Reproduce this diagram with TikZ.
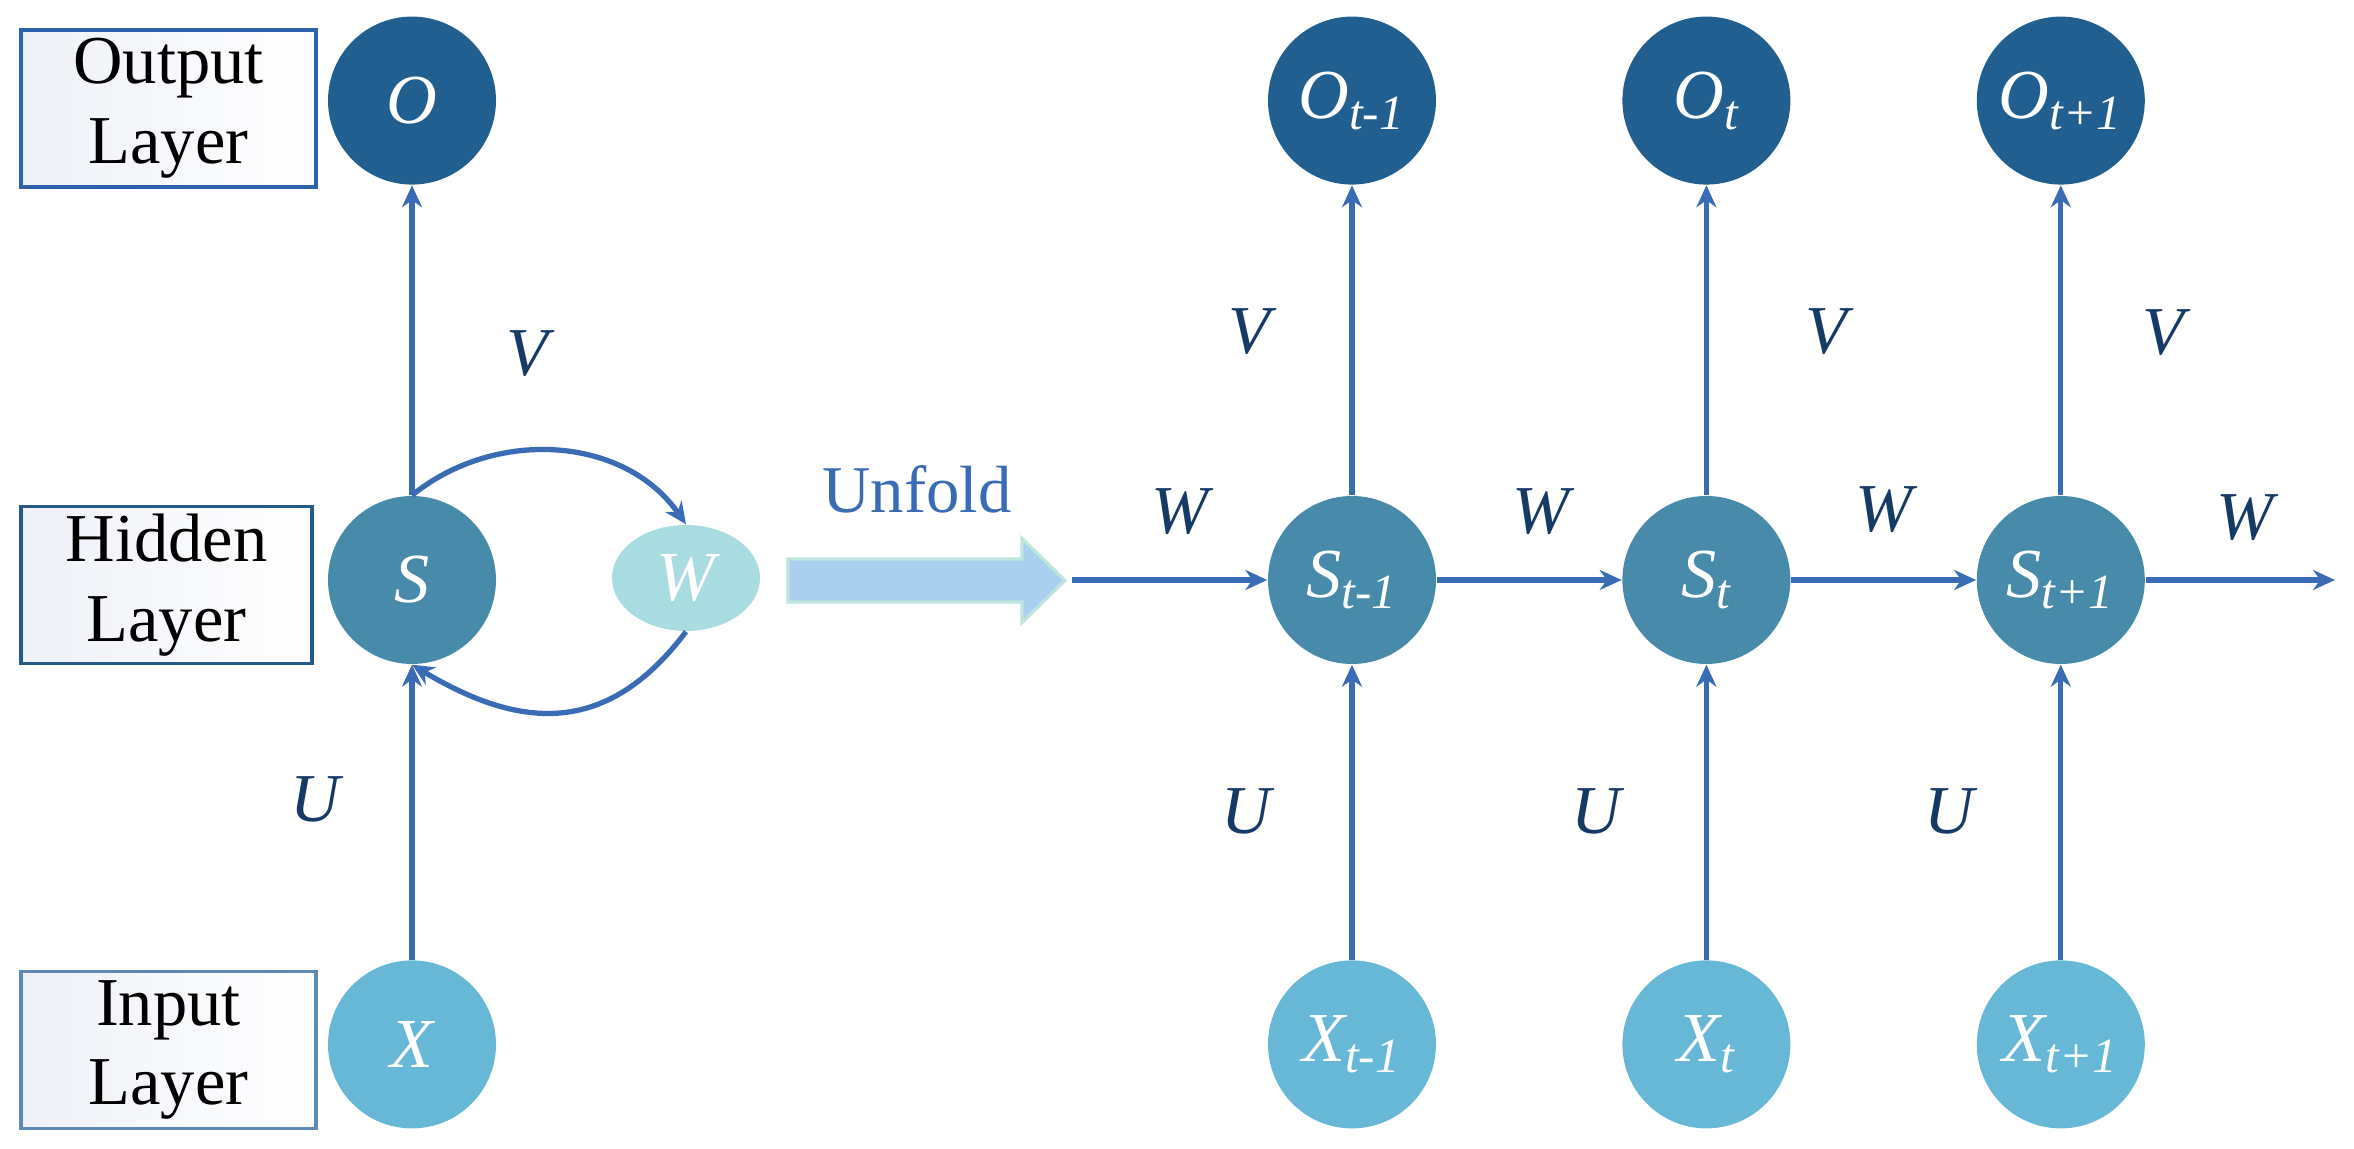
\documentclass[tikz,border=0pt]{standalone}
\usepackage{fontspec}
\setmainfont{Liberation Serif}
\usepackage{xcolor}
\usepackage{tikz}
\usetikzlibrary{arrows.meta, positioning, shapes.geometric}

\definecolor{outfill}{HTML}{225F91}
\definecolor{hidfill}{HTML}{478AA9}
\definecolor{infill}{HTML}{67B8D6}
\definecolor{wfill}{HTML}{A9DCE0}
\definecolor{linecol}{HTML}{3A6BB5}
\definecolor{lblcol}{HTML}{163A66}
\definecolor{unfoldfill}{HTML}{A9D1EF}
\definecolor{unfolddraw}{HTML}{BDE4DD}
\definecolor{outbox}{HTML}{2E62AC}
\definecolor{hidbox}{HTML}{235A86}
\definecolor{inbox}{HTML}{5E8AB5}
\definecolor{boxshade}{HTML}{EEF1F7}

\begin{document}
\begin{tikzpicture}[
          node distance=1.85cm,
          unit/.style={circle, minimum size=1.68cm, inner sep=0pt, text=white,
                       font=\fontsize{20}{24}\selectfont\itshape},
          outunit/.style={unit, fill=outfill},
          hidunit/.style={unit, fill=hidfill},
          inunit/.style={unit, fill=infill},
          layerbox/.style={draw, line width=0.9pt, minimum width=2.95cm,
                           minimum height=1.57cm, inner sep=0pt, align=center,
                           left color=boxshade, right color=white,
                           font=\fontsize{19.5}{22.7}\selectfont},
          wlabel/.style={text=lblcol, font=\fontsize{19.5}{23}\selectfont\itshape},
          arr/.style={-{Stealth[length=2.2mm, width=2mm]}, line width=1.5pt, draw=linecol}
        ]
          \useasboundingbox (0,0) rectangle (23.54,11.49);

          \node[layerbox, draw=outbox] (outlayer) at (1.685,10.405) {Output\\Layer};
          \node[layerbox, draw=hidbox, minimum width=2.91cm] (hidlayer) at (1.665,5.64) {Hidden\\Layer};
          \node[layerbox, draw=inbox] (inlayer) at (1.685,0.99) {Input\\Layer};

          \node[hidunit] (s) at (4.12,5.69) {S};
          \node[outunit, above=3.10cm of s] (o) {O};
          \node[inunit, below=2.95cm of s] (x) {X};
          \node[ellipse, fill=wfill, minimum width=1.48cm, minimum height=1.06cm,
                inner sep=0pt, text=white, font=\fontsize{20}{24}\selectfont\itshape] (w) at (6.86,5.71) {W};
          \draw[arr] (x) -- (s);
          \draw[arr] (s) -- (o);
          \draw[arr] (s.north) to[out=39, in=125] (w.north);
          \draw[arr] (w.south) to[out=-127, in=-31, looseness=1.2] (s.south);
          \node[wlabel] (vleft) at (5.27,7.95) {V};
          \node[wlabel] (uleft) at (3.15,3.50) {U};

          \draw[line width=0.9pt, draw=unfolddraw, fill=unfoldfill]
            (7.88,5.47) -- (10.22,5.47) -- (10.22,5.265) -- (10.65,5.685)
            -- (10.22,6.105) -- (10.22,5.90) -- (7.88,5.90) -- cycle;
          \node[anchor=base, text=linecol, font=\fontsize{19}{23}\selectfont] (unfold) at (9.17,6.36) {Unfold};

          \node[hidunit] (s1) at (13.52,5.69) {S\textsubscript{t-1}};
          \node[hidunit, right=of s1] (s2) {S\textsubscript{t}};
          \node[hidunit, right=of s2] (s3) {S\textsubscript{t+1}};
          \node[outunit, above=3.10cm of s1] (o1) {O\textsubscript{t-1}};
          \node[outunit, above=3.10cm of s2] (o2) {O\textsubscript{t}};
          \node[outunit, above=3.10cm of s3] (o3) {O\textsubscript{t+1}};
          \node[inunit, below=2.95cm of s1] (x1) {X\textsubscript{t-1}};
          \node[inunit, below=2.95cm of s2] (x2) {X\textsubscript{t}};
          \node[inunit, below=2.95cm of s3] (x3) {X\textsubscript{t+1}};
          \coordinate (win) at (10.72,5.69);
          \coordinate (wout) at (23.35,5.69);

          \draw[arr] (win) -- (s1);
          \draw[arr] (s1) -- (s2);
          \draw[arr] (s2) -- (s3);
          \draw[arr] (s3) -- (wout);
          \draw[arr] (x1) -- (s1);
          \draw[arr] (x2) -- (s2);
          \draw[arr] (x3) -- (s3);
          \draw[arr] (s1) -- (o1);
          \draw[arr] (s2) -- (o2);
          \draw[arr] (s3) -- (o3);

          \node[wlabel] (w0) at (11.80,6.37) {W};
          \node[wlabel] (w1) at (15.41,6.37) {W};
          \node[wlabel] (w2) at (18.84,6.39) {W};
          \node[wlabel] (w3) at (22.45,6.31) {W};
          \node[wlabel] (v1) at (12.49,8.17) {V};
          \node[wlabel] (v2) at (18.26,8.17) {V};
          \node[wlabel] (v3) at (21.63,8.16) {V};
          \node[wlabel] (u1) at (12.46,3.38) {U};
          \node[wlabel] (u2) at (15.96,3.38) {U};
          \node[wlabel] (u3) at (19.49,3.38) {U};
        \end{tikzpicture}
\end{document}
